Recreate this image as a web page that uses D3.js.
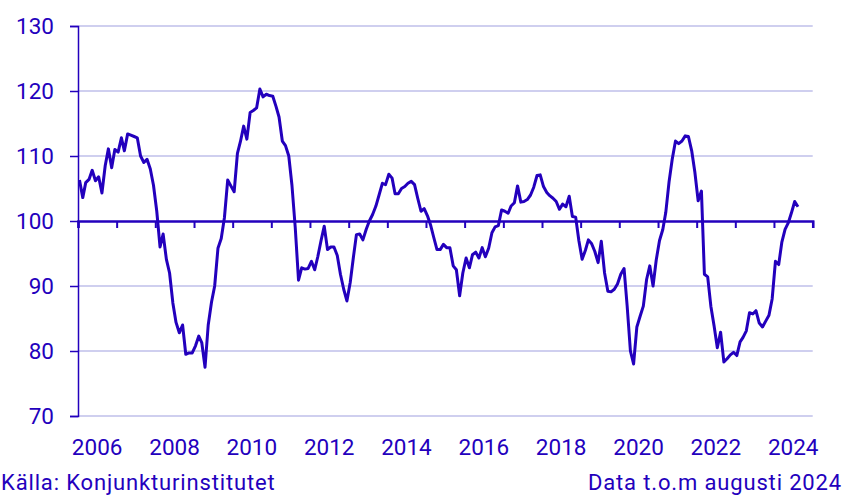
<!DOCTYPE html>
<html>
<head>
<meta charset="utf-8">
<script src="https://cdn.jsdelivr.net/npm/d3@7"></script>
<style>
  body { margin: 0; background: #fff; }
  svg text { font-family: Roboto, "Noto Sans", sans-serif; fill: #2300bd; }
</style>
</head>
<body>
<div id="chart"></div>
<script>
// monthly index values, jan 2006 - aug 2024
var startYear = 2006;
var endYear = 2024;
var indexValues = [
  106.3, 103.6, 105.9, 106.4, 107.8, 106.2, 106.8, 104.3, 108.5, 111.1, 108.2, 111.0,
  110.6, 112.8, 110.8, 113.4, 113.2, 113.0, 112.8, 110.0, 109.0, 109.5, 108.0, 105.5,
  101.5, 96.0, 98.0, 94.1, 92.0, 87.4, 84.4, 82.8, 84.0, 79.5, 79.7, 79.7,
  80.8, 82.3, 81.3, 77.5, 84.0, 87.5, 90.0, 95.8, 97.3, 100.5, 106.3, 105.4,
  104.5, 110.4, 112.2, 114.6, 112.6, 116.7, 117.0, 117.4, 120.3, 119.1, 119.5, 119.3,
  119.2, 117.6, 116.0, 112.3, 111.6, 110.0, 105.5, 99.0, 90.9, 92.8, 92.6, 92.7,
  93.8, 92.5, 94.5, 97.0, 99.2, 95.6, 96.0, 96.0, 94.7, 91.8, 89.5, 87.7,
  90.5, 94.5, 97.9, 98.0, 97.1, 98.7, 100.0, 101.0, 102.3, 104.0, 105.8, 105.6,
  107.2, 106.6, 104.2, 104.2, 105.0, 105.3, 105.8, 106.1, 105.6, 103.5, 101.5, 101.9,
  100.8, 99.3, 97.5, 95.6, 95.6, 96.4, 95.9, 95.9, 93.1, 92.5, 88.5, 92.0,
  94.3, 92.8, 94.8, 95.2, 94.3, 95.9, 94.5, 95.8, 98.2, 99.1, 99.3, 101.7,
  101.5, 101.2, 102.3, 102.8, 105.4, 102.9, 103.0, 103.3, 104.0, 105.2, 107.0, 107.1,
  105.3, 104.4, 103.9, 103.5, 103.0, 101.8, 102.6, 102.2, 103.8, 100.7, 100.6, 97.0,
  94.1, 95.5, 97.1, 96.5, 95.3, 93.6, 96.9, 92.0, 89.2, 89.1, 89.5, 90.3,
  91.8, 92.7, 87.0, 80.0, 78.0, 83.7, 85.3, 86.9, 91.0, 93.1, 90.0, 94.0,
  97.0, 98.7, 101.3, 106.0, 109.5, 112.3, 111.9, 112.3, 113.1, 113.0, 110.8, 107.5,
  103.1, 104.6, 91.8, 91.4, 86.9, 83.8, 80.5, 82.9, 78.3, 78.8, 79.4, 79.8,
  79.3, 81.4, 82.1, 83.1, 85.9, 85.7, 86.2, 84.3, 83.7, 84.6, 85.5, 88.0,
  93.8, 93.3, 96.7, 98.7, 99.7, 101.3, 103.0, 102.2
];
var yTicks = [70, 80, 90, 100, 110, 120, 130];
var xLabels = ["2006", "2008", "2010", "2012", "2014", "2016", "2018", "2020", "2022", "2024"];
var sourceText = "Källa: Konjunkturinstitutet";
var noteText = "Data t.o.m augusti 2024";

var width = 851, height = 501;
var plotLeft = 78, plotRight = 812.7, plotTop = 26, plotBottom = 416;
var ink = "#2300bd";

var svg = d3.select("#chart").append("svg")
  .attr("width", width)
  .attr("height", height);

var x = d3.scaleTime()
  .domain([new Date(startYear, 0, 1), new Date(endYear + 1, 0, 1)])
  .range([plotLeft, plotRight]);

var y = d3.scaleLinear()
  .domain([70, 130])
  .range([plotBottom, plotTop]);

// points sit in the middle of each month
var data = indexValues.map(function(v, i){
  return { date: new Date(startYear, i, 15), value: v };
});

// gridlines
svg.selectAll(".grid")
  .data(yTicks.filter(function(d){ return d != 100; }))
  .enter()
    .append("line")
    .attr("class", "grid")
    .attr("x1", plotLeft)
    .attr("x2", plotRight)
    .attr("y1", function(d){ return y(d); })
    .attr("y2", function(d){ return y(d); })
    .attr("stroke", "#cfcfef")
    .attr("stroke-width", 2);

// y axis
var yAxis = svg.append("g")
  .attr("transform", "translate(" + plotLeft + ",0)")
  .call(d3.axisLeft(y).tickValues(yTicks).tickSize(8).tickPadding(16));
yAxis.select(".domain").attr("stroke", ink).attr("stroke-width", 1.5);
yAxis.selectAll(".tick line").attr("stroke", ink).attr("stroke-width", 1.5);
yAxis.selectAll(".tick text")
  .attr("font-size", "22.5px")
  .style("font-family", "Roboto, sans-serif")
  .attr("fill", ink);

// x axis along 100
var years = d3.range(startYear, endYear + 2).map(function(yr){ return new Date(yr, 0, 1); });
var xAxis = svg.append("g")
  .attr("transform", "translate(0," + y(100) + ")")
  .call(d3.axisBottom(x).tickValues(years).tickSize(7).tickFormat(""));
xAxis.select(".domain").attr("stroke", ink).attr("stroke-width", 2.5);
xAxis.selectAll(".tick line").attr("stroke", ink).attr("stroke-width", 2);

// year labels centered on the year
svg.selectAll(".xlabel")
  .data(xLabels)
  .enter()
    .append("text")
    .attr("class", "xlabel")
    .attr("text-anchor", "middle")
    .attr("font-size", "22.5px")
    .attr("x", function(d){ return x(new Date(+d, 6, 1)); })
    .attr("y", 455)
    .text(function(d){ return d; });

// the series
var line = d3.line()
  .x(function(d){ return x(d.date); })
  .y(function(d){ return y(d.value); });

svg.append("path")
  .datum(data)
  .attr("d", line)
  .attr("fill", "none")
  .attr("stroke", ink)
  .attr("stroke-width", 3)
  .attr("stroke-linejoin", "round");

svg.append("text")
  .attr("x", 1)
  .attr("y", 490)
  .attr("font-size", "22px")
  .attr("letter-spacing", "0.85px")
  .text(sourceText);

svg.append("text")
  .attr("x", 842)
  .attr("y", 490)
  .attr("text-anchor", "end")
  .attr("font-size", "22px")
  .attr("letter-spacing", "0.85px")
  .text(noteText);
</script>
</body>
</html>
